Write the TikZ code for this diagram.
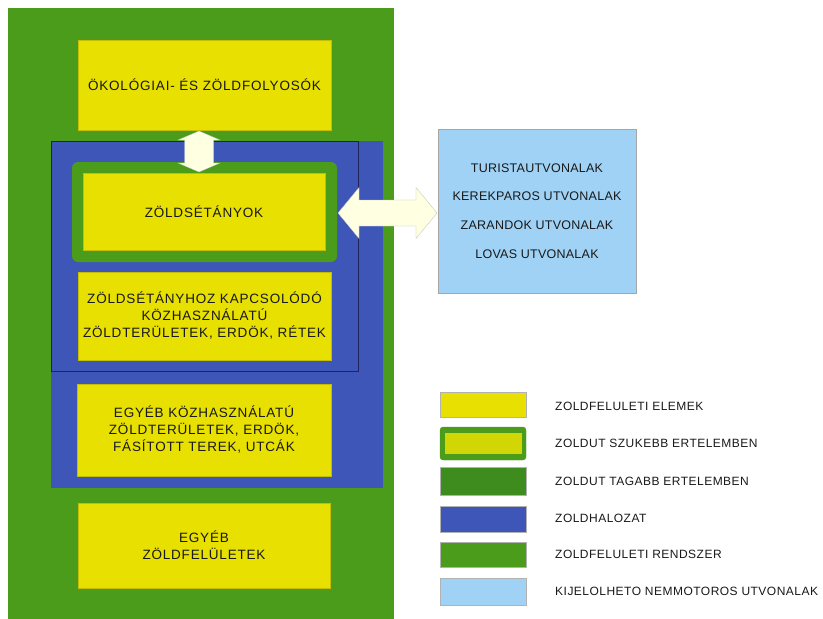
\documentclass[tikz,border=0pt]{standalone}
\usepackage{fontspec}
\setmainfont{Liberation Sans}
\newfontfamily\boxfont[LetterSpace=6]{Liberation Sans}
\newfontfamily\routefont[LetterSpace=2]{Liberation Sans}
\newfontfamily\legfont[LetterSpace=4]{Liberation Sans}
\usetikzlibrary{calc}
\definecolor{ylw}{RGB}{232,224,0}
\definecolor{grn}{RGB}{76,156,28}
\definecolor{grnd}{RGB}{62,140,30}
\definecolor{blu}{RGB}{62,86,184}
\definecolor{navy}{RGB}{30,36,90}
\definecolor{lblu}{RGB}{160,210,245}
\definecolor{cream}{RGB}{255,255,226}
\definecolor{txt}{RGB}{25,25,25}
\tikzset{
  area/.style={anchor=north west, inner sep=0pt, outer sep=0pt},
  ybox/.style={area, fill=ylw, draw=ylw!85!black, line width=0.3pt, align=center,
    text=txt, font=\boxfont\fontsize{13.5}{17}\selectfont},
  routebox/.style={area, fill=lblu, draw=black!35, line width=0.4pt, align=center,
    text=txt, font=\routefont\fontsize{12.5}{28.7}\selectfont},
  legbox/.style={area, draw=black!30, line width=0.3pt, minimum width=86pt},
  leglabel/.style={anchor=west, inner sep=0pt, text=txt, font=\legfont\fontsize{12}{13}\selectfont},
  arrowfill/.style={fill=cream, draw=black!25, line width=0.3pt, line join=miter}
}
\begin{document}
\begin{tikzpicture}[x=1pt,y=-1pt]
\useasboundingbox (0,0) rectangle (823,619);
\fill[white] (0,0) rectangle (823,619);

% outer green system
\node[area, fill=grn, minimum width=386pt, minimum height=611pt] (sys) at (8,8) {};
% blue network
\node[area, fill=blu, minimum width=332pt, minimum height=347pt] (net) at (51,141) {};
% thin outline (ZÖLDÚT tágabb értelemben)
\node[area, draw=navy, line width=0.8pt, minimum width=307pt, minimum height=230pt] (wide) at (51,141) {};

% top box
\node[ybox, minimum width=253pt, minimum height=90pt] (eco) at (78,40) {ÖKOLÓGIAI- ÉS ZÖLDFOLYOSÓK};
% green rounded frame + inner yellow
\node[area, fill=grn, rounded corners=6pt, minimum width=265pt, minimum height=100pt] (setout) at (72,162) {};
\node[ybox, minimum width=242pt, minimum height=77pt] (setin) at (83,173) {ZÖLDSÉTÁNYOK};
% other yellow boxes
\node[ybox, minimum width=253pt, minimum height=88pt] (conn) at (78,272)
  {ZÖLDSÉTÁNYHOZ KAPCSOLÓDÓ\\KÖZHASZNÁLATÚ\\ZÖLDTERÜLETEK, ERDÖK, RÉTEK};
\node[ybox, minimum width=254pt, minimum height=92pt] (pub) at (77,384)
  {EGYÉB KÖZHASZNÁLATÚ\\ZÖLDTERÜLETEK, ERDÖK,\\FÁSÍTOTT TEREK, UTCÁK};
\node[ybox, minimum width=252pt, minimum height=85pt] (other) at (78,503)
  {EGYÉB\\ZÖLDFELÜLETEK};

% routes box
\node[routebox, minimum width=198pt, minimum height=164pt] (routes) at (438,129)
  {TURISTAUTVONALAK\\KEREKPAROS UTVONALAK\\ZARANDOK UTVONALAK\\LOVAS UTVONALAK};

% vertical double arrow
\path[arrowfill] let \p1=($(eco.south)+(-5.5,1)$), \p2=($(setin.north)+(-5,-1)$) in
  (\p1) -- (\x1+21pt,\y1-9pt) -- (\x1+14.5pt,\y1-9pt) -- (\x1+14.5pt,\y2+9pt)
  -- (\x1+21pt,\y2+9pt) -- (\x1,\y2) -- (\x1-21pt,\y2+9pt) -- (\x1-14.5pt,\y2+9pt)
  -- (\x1-14.5pt,\y1-9pt) -- (\x1-21pt,\y1-9pt) -- cycle;

% horizontal double arrow
\path[arrowfill] let \p1=($(setout.east)+(1,1)$), \p2=($(routes.west)+(-1,0)$) in
  (\p1) -- (\x1+21pt,\y1+25.5pt) -- (\x1+21pt,\y1+13pt) -- (\x2-21pt,\y1+13pt)
  -- (\x2-21pt,\y1+25.5pt) -- (\x2,\y1) -- (\x2-21pt,\y1-25.5pt) -- (\x2-21pt,\y1-13pt)
  -- (\x1+21pt,\y1-13pt) -- (\x1+21pt,\y1-25.5pt) -- cycle;

% legend
\node[legbox, fill=ylw, minimum height=25pt] (l1) at (440,392) {};
\node[legbox, fill=grn, draw=grn, rounded corners=3pt, minimum height=33pt] (l2) at (440,427) {};
\node[area, fill=ylw!85!grn, minimum width=77pt, minimum height=21pt] (l2in) at (445,433) {};
\node[legbox, fill=grnd, minimum height=28pt] (l3) at (440,467) {};
\node[legbox, fill=blu, minimum height=26pt] (l4) at (440,506) {};
\node[legbox, fill=grn, minimum height=25pt] (l5) at (440,542) {};
\node[legbox, fill=lblu, minimum height=27pt] (l6) at (440,578) {};

\node[leglabel] (t1) at (555,406.5) {ZOLDFELULETI ELEMEK};
\node[leglabel] (t2) at (555,443.5) {ZOLDUT SZUKEBB ERTELEMBEN};
\node[leglabel] (t3) at (555,481.5) {ZOLDUT TAGABB ERTELEMBEN};
\node[leglabel] (t4) at (555,518.5) {ZOLDHALOZAT};
\node[leglabel] (t5) at (555,554.5) {ZOLDFELULETI RENDSZER};
\node[leglabel] (t6) at (555,591.5) {KIJELOLHETO NEMMOTOROS UTVONALAK};
\end{tikzpicture}
\end{document}
